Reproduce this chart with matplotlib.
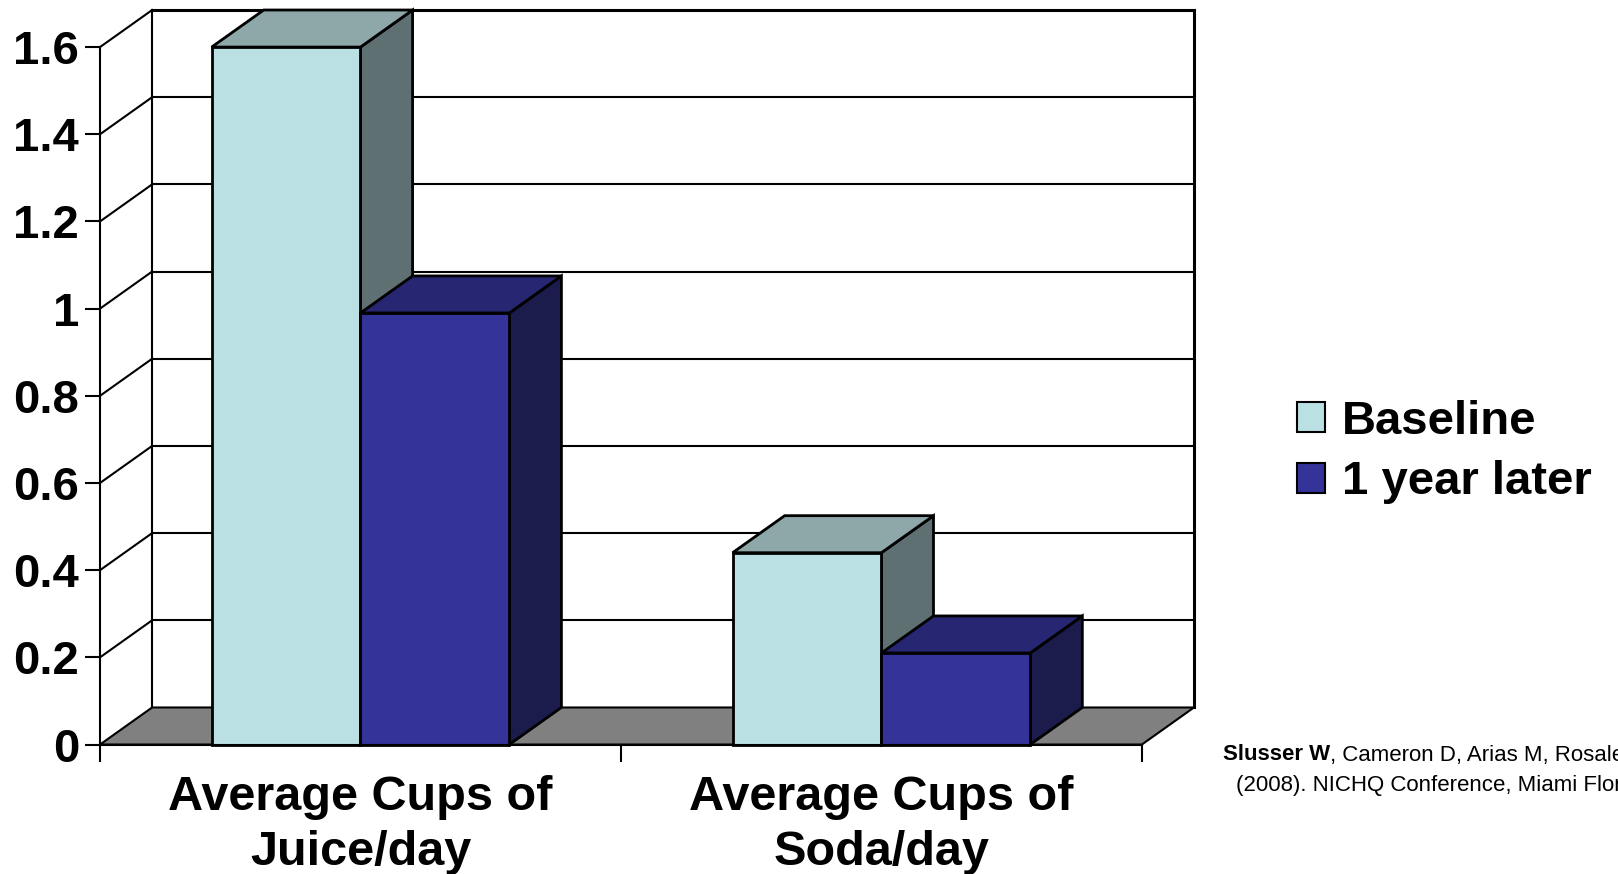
import matplotlib.pyplot as plt
from matplotlib.patches import Polygon, Patch

categories = ['Average Cups of\nJuice/day', 'Average Cups of\nSoda/day']
series = ['Baseline', '1 year later']
baseline = [1.6, 0.44]
year_later = [0.99, 0.21]
yticks = [0, 0.2, 0.4, 0.6, 0.8, 1, 1.2, 1.4, 1.6]

# front, top and side shade for each series
shades = {
    'Baseline': ('#BBE0E3', '#8EA8AA', '#5F7072'),
    '1 year later': ('#333399', '#262673', '#1B1B4C'),
}
values = {'Baseline': baseline, '1 year later': year_later}

dx, dy = 0.1, 0.085      # depth of the pseudo 3-D box
bar_w = 1 / 3.5          # two bars plus a 150% gap per category
ymax = yticks[-1]
ncat = len(categories)
lw = 1.5

plt.rcParams['font.family'] = ['Liberation Sans', 'DejaVu Sans']
plt.rcParams['font.weight'] = 'bold'

fig = plt.figure(figsize=(16.18, 8.74), dpi=100)
ax = fig.add_axes([0, 0, 1, 1])
ax.set_xlim(-0.192, 2.914)
ax.set_ylim(-0.297, 1.708)

# back wall and side wall grid
for v in yticks[1:]:
    w = 2.2 if v == ymax else lw
    ax.plot([dx, ncat + dx], [v + dy, v + dy], color='k', lw=w, zorder=1)
    ax.plot([0, dx], [v, v + dy], color='k', lw=lw, zorder=1)
for x in (dx, ncat + dx):
    ax.plot([x, x], [dy, ymax + dy], color='k', lw=2.2 if x > 1 else lw, zorder=1)

# floor
ax.add_patch(Polygon([(0, 0), (ncat, 0), (ncat + dx, dy), (dx, dy)],
                     fc='#808080', ec='k', lw=lw, zorder=1.5))

# bars as boxes: side, top, then front face
for i in range(ncat):
    for j, name in enumerate(series):
        x0 = i + (1 - 2 * bar_w) / 2 + j * bar_w
        x1 = x0 + bar_w
        h = values[name][i]
        front, top, side = shades[name]
        ax.add_patch(Polygon([(x1, 0), (x1 + dx, dy), (x1 + dx, h + dy), (x1, h)],
                             fc=side, ec='k', lw=2, zorder=2, joinstyle='miter'))
        ax.add_patch(Polygon([(x0, h), (x1, h), (x1 + dx, h + dy), (x0 + dx, h + dy)],
                             fc=top, ec='k', lw=2, zorder=2, joinstyle='miter'))
        ax.add_patch(Polygon([(x0, 0), (x1, 0), (x1, h), (x0, h)],
                             fc=front, ec='k', lw=2, zorder=2, joinstyle='miter'))

# axes lines
for s in ('top', 'right'):
    ax.spines[s].set_visible(False)
ax.spines['left'].set_position(('data', 0))
ax.spines['left'].set_bounds(0, ymax)
ax.spines['bottom'].set_position(('data', 0))
ax.spines['bottom'].set_bounds(0, ncat)
for s in ('left', 'bottom'):
    ax.spines[s].set_linewidth(lw)
    ax.spines[s].set_zorder(3)

ax.set_yticks(yticks, labels=[f'{v:g}' for v in yticks])
ax.tick_params(axis='y', length=11, width=lw, pad=4, labelsize=34)

ax.set_xticks([i + 0.5 for i in range(ncat)], labels=categories)
ax.set_xticks(range(ncat + 1), minor=True)
ax.tick_params(axis='x', which='major', length=0, pad=22, labelsize=35)
ax.tick_params(axis='x', which='minor', length=12, width=lw)
for lbl in ax.get_xticklabels():
    lbl.set_linespacing(1.27)

handles = [Patch(fc=shades[s][0], ec='k', lw=lw) for s in series]
ax.legend(handles, series, loc='center left',
          bbox_to_anchor=(1297 / 1618, 1 - 452 / 874), bbox_transform=fig.transFigure,
          frameon=False, borderpad=0, borderaxespad=0, handlelength=0.6, handleheight=0.6,
          handletextpad=0.35, labelspacing=0.36, prop={'weight': 'bold', 'size': 34})

# reference note
narrow = ['Liberation Sans Narrow', 'Liberation Sans']
t1 = fig.text(1223 / 1618, 1 - 755 / 874, 'Slusser W', fontsize=16,
              fontweight='bold', family=narrow, va='center')
ax.annotate(', Cameron D, Arias M, Rosales A', xy=(1, 0), xycoords=t1,
            va='bottom', fontsize=16, fontweight='normal', family=narrow)
fig.text(1236 / 1618, 1 - 786 / 874, '(2008). NICHQ Conference, Miami Florida',
         fontsize=16, fontweight='normal', family=narrow, va='center')

fig.savefig('out.png', dpi=100)
